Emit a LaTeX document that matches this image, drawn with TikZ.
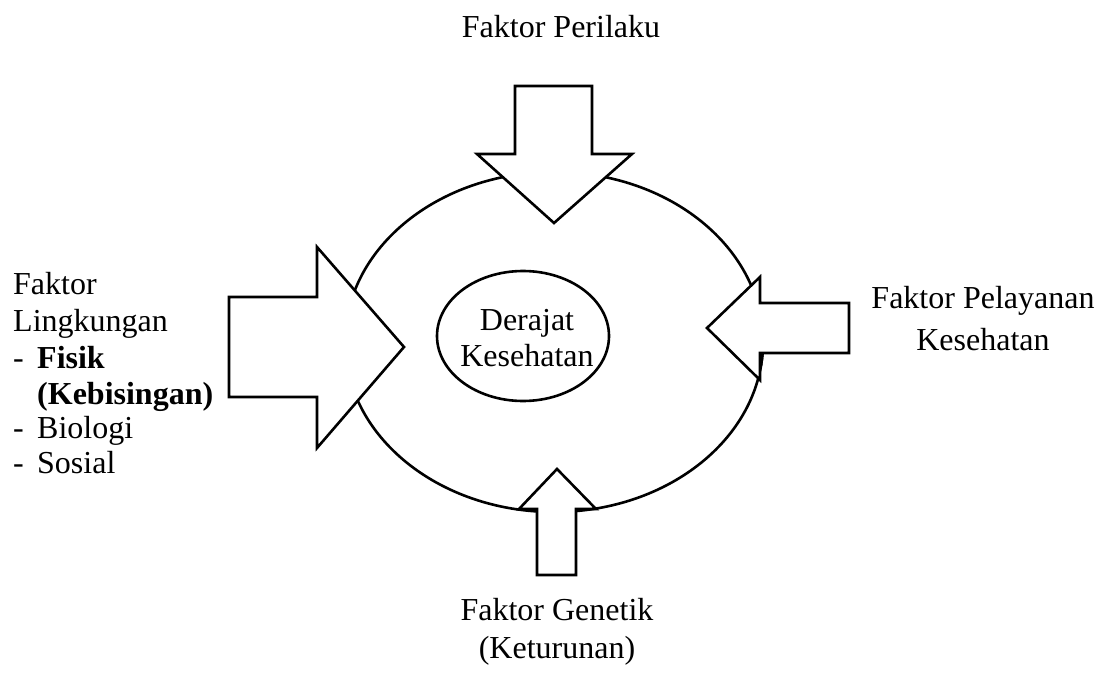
\documentclass[tikz,border=0pt]{standalone}
\usepackage{fontspec}
\setmainfont{Liberation Serif}
\begin{document}
\begin{tikzpicture}[x=1pt,y=-1pt,
  shape line/.style={draw=black,line width=2.6pt,line join=miter},
  arrowshape/.style={shape line,fill=white},
  lbl/.style={font=\fontsize{32}{36}\selectfont,inner sep=0pt,anchor=base},
  lbll/.style={font=\fontsize{32}{36}\selectfont,inner sep=0pt,anchor=base west}]
\useasboundingbox (0,0) rectangle (1105,687);
% outer ellipse
\draw[shape line] (554,342) ellipse [x radius=209,y radius=170];
% top arrow (down)
\draw[arrowshape] (515,86) -- (592,86) -- (592,154) -- (632,154) -- (554,223) -- (477,154) -- (515,154) -- cycle;
% left arrow (right)
\draw[arrowshape] (229,297) -- (317,297) -- (317,247) -- (404,347) -- (317,448) -- (317,397) -- (229,397) -- cycle;
% right arrow (left)
\draw[arrowshape] (849,303) -- (760,303) -- (760,277) -- (707,328) -- (760,380) -- (760,353) -- (849,353) -- cycle;
% ellipse segment visible below right arrow shaft
\begin{scope}
\clip (761.3,354.3) rectangle (800,380);
\draw[shape line] (554,342) ellipse [x radius=209,y radius=170];
\end{scope}
% bottom arrow (up)
\draw[arrowshape] (537,575) -- (537,509) -- (519,509) -- (557,469) -- (596,509) -- (576,509) -- (576,575) -- cycle;
% inner ellipse
\draw[shape line] (523,336) ellipse [x radius=86,y radius=65];
\node[lbl] (c1) at (527,330) {Derajat};
\node[lbl] (c2) at (527,366) {Kesehatan};
% labels
\node[lbl] (top) at (561,38) {Faktor Perilaku};
\node[lbll] (l1) at (13,294) {Faktor};
\node[lbll] (l2) at (13,331) {Lingkungan};
\node[lbll] (l3) at (13,368) {-};
\node[lbll,font=\fontsize{32}{36}\selectfont\bfseries] (l3b) at (37,368) {Fisik};
\node[lbll,font=\fontsize{32}{36}\selectfont\bfseries] (l4) at (37,404) {(Kebisingan)};
\node[lbll] (l5) at (13,438) {-};
\node[lbll] (l5b) at (37,438) {Biologi};
\node[lbll] (l6) at (13,473) {-};
\node[lbll] (l6b) at (37,473) {Sosial};
\node[lbl] (r1) at (983,308) {Faktor Pelayanan};
\node[lbl] (r2) at (983,350) {Kesehatan};
\node[lbl] (b1) at (557,620) {Faktor Genetik};
\node[lbl] (b2) at (557,658) {(Keturunan)};
\end{tikzpicture}
\end{document}
